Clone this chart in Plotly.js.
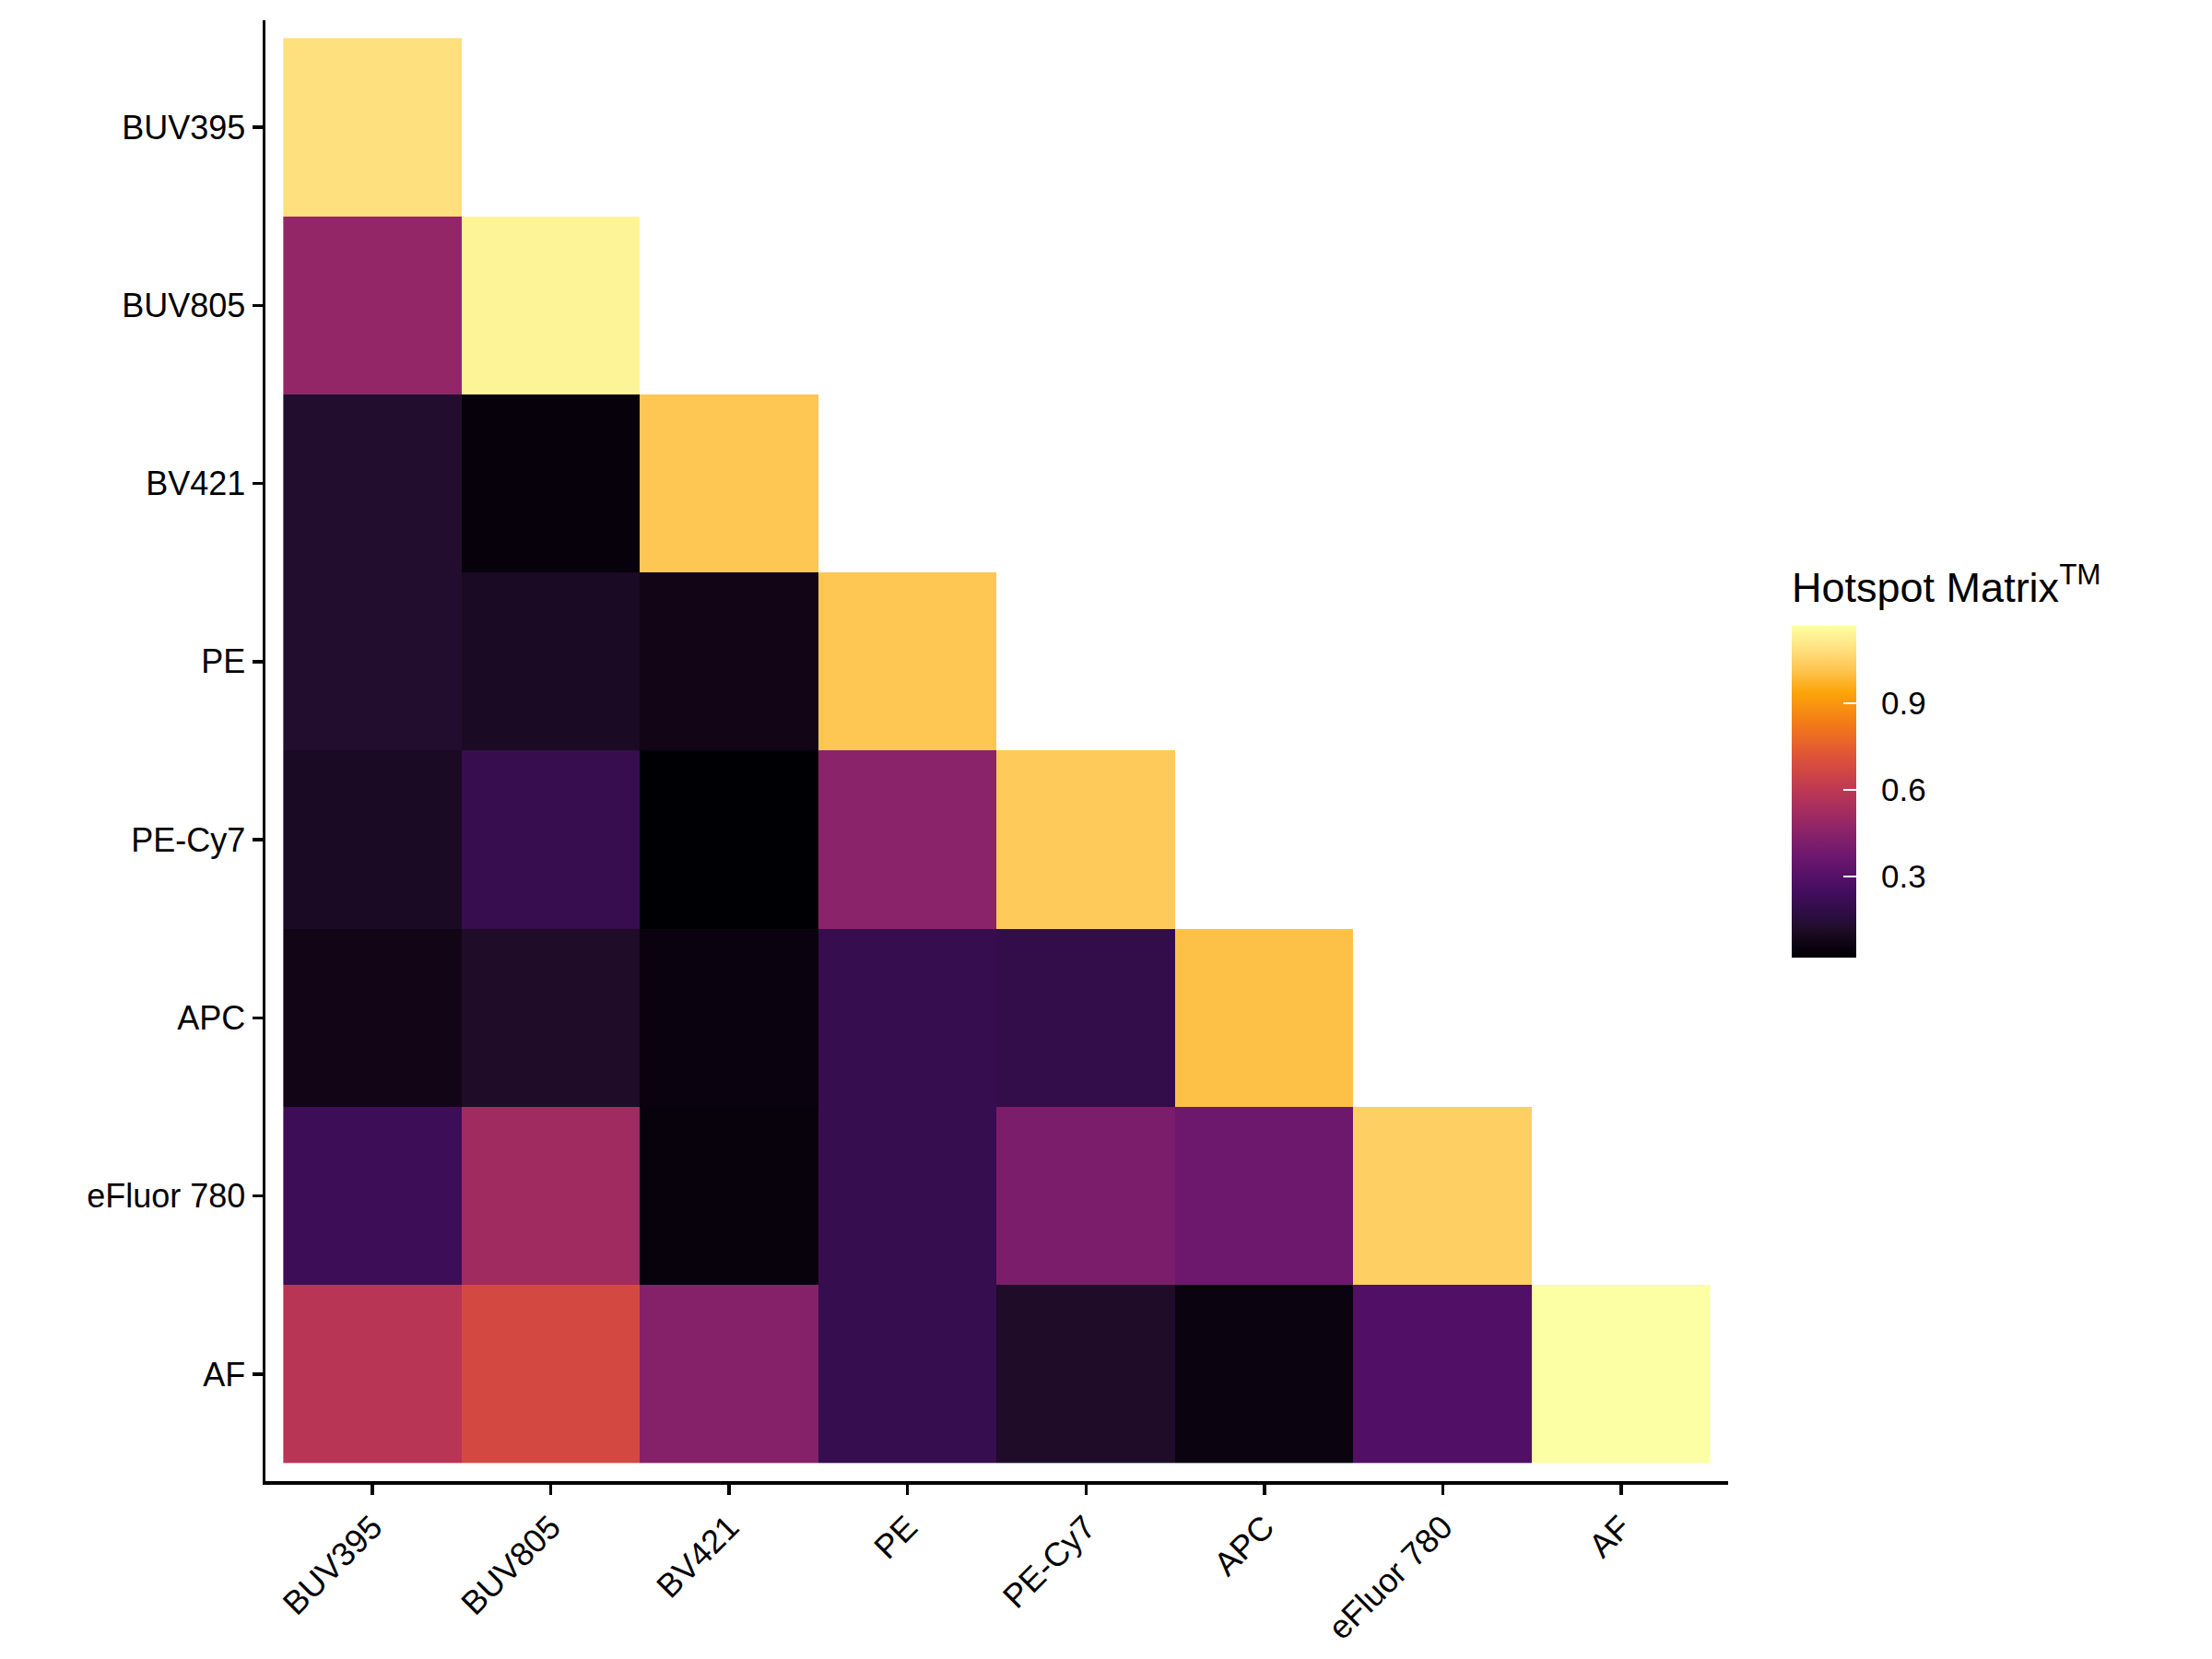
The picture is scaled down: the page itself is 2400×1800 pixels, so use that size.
<!DOCTYPE html>
<html>
<head>
<meta charset="utf-8">
<script src="https://cdn.plot.ly/plotly-3.0.1.min.js"></script>
<style>
  body { margin: 0; background: #fff; }
  #myDiv { width: 2400px; height: 1800px; }
</style>
</head>
<body>
<div id="myDiv"></div>
<script>
// fluorochrome names, same order on both axes
var markers = ['BUV395', 'BUV805', 'BV421', 'PE', 'PE-Cy7', 'APC', 'eFluor 780', 'AF'];

// hotspot values per row (lower triangle only)
var rowBUV395 = [1.088, null, null, null, null, null, null, null];
var rowBUV805 = [0.479, 1.139, null, null, null, null, null, null];
var rowBV421 = [0.128, 0.042, 1.019, null, null, null, null, null];
var rowPE = [0.128, 0.105, 0.076, 1.019, null, null, null, null];
var rowPECy7 = [0.105, 0.209, 0.019, 0.453, 1.030, null, null, null];
var rowAPC = [0.076, 0.117, 0.053, 0.203, 0.191, 1.007, null, null];
var rowEFluor780 = [0.226, 0.513, 0.048, 0.203, 0.410, 0.375, 1.042, null];
var rowAF = [0.582, 0.674, 0.438, 0.203, 0.117, 0.059, 0.289, 1.168];

var colorTicks = [0.3, 0.6, 0.9];

// inferno-like palette, tuned to the colours in the picture
var inferno = [
    [0.0, '#000004'], [0.03, '#0a020f'], [0.05, '#120516'], [0.085, '#1f0c28'],
    [0.1, '#230e33'], [0.16, '#360d4e'], [0.2, '#440d60'], [0.3, '#6a176e'],
    [0.4, '#932667'], [0.5, '#bc3754'], [0.6, '#dd513a'], [0.7, '#f37819'],
    [0.8, '#fca50a'], [0.87, '#fec653'], [0.93, '#ffe07f'], [1.0, '#fcffa4']
];

var font = 'Liberation Sans, Arial, sans-serif';

var trace = {
    type: 'heatmap',
    x: markers,
    y: markers,
    z: [rowBUV395, rowBUV805, rowBV421, rowPE, rowPECy7, rowAPC, rowEFluor780, rowAF],
    colorscale: inferno,
    hoverongaps: false,
    colorbar: {
        title: { text: 'Hotspot Matrix<sup>TM</sup>', side: 'top', font: { family: font, size: 45, color: '#000' } },
        thicknessmode: 'pixels', thickness: 70,
        lenmode: 'pixels', len: 423,
        x: 1.0435, xanchor: 'left',
        y: 0.3584, yanchor: 'bottom',
        xpad: 0, ypad: 0,
        outlinewidth: 0,
        tickvals: colorTicks,
        ticktext: colorTicks.map(function (v) { return '\u00a0\u00a0' + v.toFixed(1); }),
        ticks: 'inside', ticklen: 14, tickwidth: 2, tickcolor: '#ffffff',
        tickfont: { family: font, size: 35, color: '#000' }
    }
};

var axisStyle = {
    type: 'category',
    showgrid: false,
    zeroline: false,
    showline: true,
    linecolor: '#000',
    linewidth: 3.5,
    ticks: 'outside',
    ticklen: 11,
    tickwidth: 3.5,
    tickcolor: '#000',
    tickfont: { family: font, size: 36, color: '#000' }
};

var layout = {
    width: 2400,
    height: 1800,
    margin: { l: 288, r: 525, t: 22, b: 193 },
    paper_bgcolor: '#fff',
    plot_bgcolor: '#fff',
    font: { family: font },
    xaxis: Object.assign({}, axisStyle, { range: [-0.6, 7.6], tickangle: -45 }),
    yaxis: Object.assign({}, axisStyle, { range: [7.6, -0.6] })
};

Plotly.newPlot('myDiv', [trace], layout, { displayModeBar: false, staticPlot: true });
</script>
</body>
</html>
